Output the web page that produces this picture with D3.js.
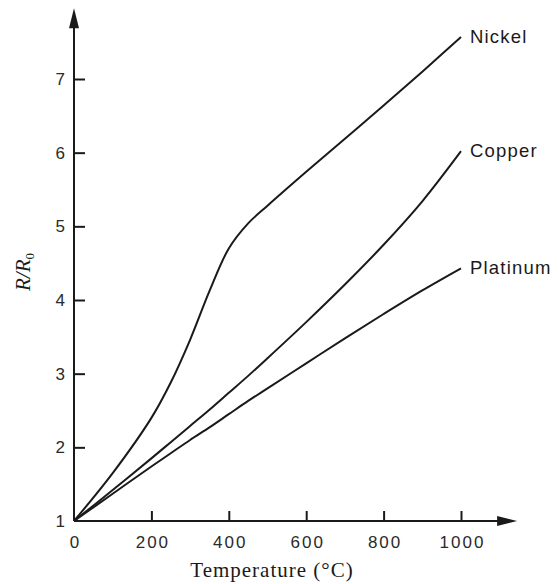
<!DOCTYPE html>
<html>
<head>
<meta charset="utf-8">
<script src="https://cdn.jsdelivr.net/npm/d3@7"></script>
<style>
  body { margin: 0; background: #fff; }
  svg { display: block; }
</style>
</head>
<body>
<div id="chart"></div>
<script>
// temperatures in degrees C
const temps = [0, 100, 200, 250, 300, 350, 400, 450, 500, 600, 700, 800, 900, 1000];
// R/R0
const nickel = [1, 1.65, 2.40, 2.88, 3.46, 4.12, 4.70, 5.04, 5.28, 5.74, 6.19, 6.64, 7.10, 7.57];
const copper = [1, 1.42, 1.85, 2.07, 2.29, 2.51, 2.74, 2.97, 3.21, 3.70, 4.21, 4.75, 5.34, 6.02];
const platinum = [1, 1.37, 1.74, 1.92, 2.10, 2.27, 2.45, 2.63, 2.80, 3.14, 3.48, 3.81, 4.13, 4.43];
const seriesNames = ["Nickel", "Copper", "Platinum"];
const xTicks = [0, 200, 400, 600, 800, 1000];
const yTicks = [1, 2, 3, 4, 5, 6, 7];

function init() {
  const width = 558, height = 584;
  const svg = d3.select("#chart").append("svg")
      .attr("width", width)
      .attr("height", height);

  const x = d3.scaleLinear().domain([0, 1000]).range([74, 461]);
  const y = d3.scaleLinear().domain([1, 7]).range([521, 79]);

  const ink = "#1a1a1a";
  const sans = "'Liberation Sans', Arial, sans-serif";
  const serif = "'Liberation Serif', 'Times New Roman', serif";

  // axis lines with arrow heads
  const xEnd = x(1145), yEnd = y(7.96);
  svg.append("line")
      .attr("x1", x(0)).attr("y1", y(1)).attr("x2", xEnd - 6).attr("y2", y(1))
      .attr("stroke", ink).attr("stroke-width", 2);
  svg.append("line")
      .attr("x1", x(0)).attr("y1", y(1)).attr("x2", x(0)).attr("y2", yEnd + 6)
      .attr("stroke", ink).attr("stroke-width", 2);
  svg.append("path")
      .attr("d", `M${xEnd},${y(1)} L${xEnd - 20},${y(1) - 5} L${xEnd - 20},${y(1) + 5} Z`)
      .attr("fill", ink);
  svg.append("path")
      .attr("d", `M${x(0)},${yEnd} L${x(0) - 5},${yEnd + 20} L${x(0) + 5},${yEnd + 20} Z`)
      .attr("fill", ink);

  const xAxis = svg.append("g")
      .attr("transform", "translate(0," + y(1) + ")")
      .call(d3.axisBottom(x).tickValues(xTicks).tickFormat(d3.format("d"))
        .tickSize(-10).tickPadding(15));
  const yAxis = svg.append("g")
      .attr("transform", "translate(" + x(0) + ",0)")
      .call(d3.axisLeft(y).tickValues(yTicks).tickFormat(d3.format("d"))
        .tickSize(-11).tickPadding(7));

  [xAxis, yAxis].forEach(g => {
    g.select(".domain").remove();
    g.selectAll("line").attr("stroke", ink).attr("stroke-width", 2);
    g.selectAll("text")
        .attr("fill", "#2a2a2a")
        .style("font-family", sans)
        .style("font-size", "17px")
        .style("letter-spacing", "2px");
  });
  xAxis.selectAll("text").attr("dx", 1);
  // tick at 0 / 1 sits on the other axis
  xAxis.selectAll(".tick").filter(d => d === 0).select("line").remove();
  yAxis.selectAll(".tick").filter(d => d === 1).select("line").remove();

  // curves
  const line = d3.line()
      .x((d, i) => x(temps[i]))
      .y(d => y(d))
      .curve(d3.curveCatmullRom.alpha(0.5));

  const all = [nickel, copper, platinum];
  all.forEach((vals, k) => {
    svg.append("path")
        .datum(vals)
        .attr("d", line)
        .attr("fill", "none")
        .attr("stroke", ink)
        .attr("stroke-width", 2);

    svg.append("text")
        .attr("x", x(1000) + 9)
        .attr("y", y(vals[vals.length - 1]) + 6)
        .attr("fill", "#1a1a1a")
        .style("font-family", sans)
        .style("font-size", "18.5px")
        .style("letter-spacing", "1.2px")
        .text(seriesNames[k]);
  });

  // axis titles
  svg.append("text")
      .attr("x", 272)
      .attr("y", 577)
      .attr("text-anchor", "middle")
      .attr("fill", "#1a1a1a")
      .style("font-family", serif)
      .style("font-size", "21px")
      .style("letter-spacing", "1px")
      .text("Temperature (°C)");

  const yt = svg.append("text")
      .attr("transform", "translate(30,272) rotate(-90)")
      .attr("text-anchor", "middle")
      .attr("fill", "#1a1a1a")
      .style("font-family", serif)
      .style("font-style", "italic")
      .style("font-size", "21px");
  yt.append("tspan").text("R/R");
  yt.append("tspan").attr("dy", 4).style("font-size", "13px").style("font-style", "normal").text("0");
}

window.onload = init;
</script>
</body>
</html>
